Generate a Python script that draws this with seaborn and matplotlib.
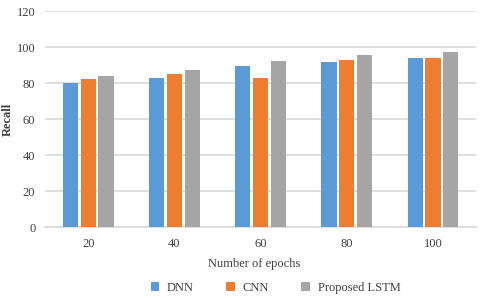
import pandas as pd
import matplotlib.pyplot as plt
import seaborn as sns
from matplotlib.patches import Patch

epochs = ["20", "40", "60", "80", "100"]
dnn = [80.0, 83.0, 89.3, 91.7, 93.7]
cnn = [82.0, 85.0, 82.8, 92.6, 93.7]
lstm = [83.7, 87.0, 92.4, 95.4, 97.4]
models = ["DNN", "CNN", "Proposed LSTM"]
colors = ["#5B9BD5", "#ED7D31", "#A5A5A5"]

df = pd.DataFrame({
    "Epochs": epochs * 3,
    "Recall": dnn + cnn + lstm,
    "Model": [m for m in models for _ in epochs],
})

sns.set_theme(style="white")
plt.rcParams["font.family"] = ["Liberation Serif", "DejaVu Serif"]
text_color = "#404040"

fig = plt.figure(figsize=(4.8, 2.98), dpi=100)
ax = fig.add_axes([0.094, 0.238, 0.898, 0.725])

sns.barplot(data=df, x="Epochs", y="Recall", hue="Model", order=epochs,
            hue_order=models, palette=colors, width=0.62, gap=0.15,
            saturation=1, edgecolor="none", legend=False, ax=ax, zorder=3)

ax.set_ylim(0, 120)
ax.set_yticks(range(0, 121, 20))
ax.set_xlim(-0.5, 4.5)
ax.yaxis.grid(True, color="#D9D9D9", linewidth=1.2, zorder=0)
for s in ["top", "right", "left"]:
    ax.spines[s].set_visible(False)
ax.spines["bottom"].set_color("#D9D9D9")
ax.spines["bottom"].set_linewidth(1.2)
ax.tick_params(axis="both", length=0, labelsize=9, colors=text_color)
ax.tick_params(axis="y", pad=7)
ax.tick_params(axis="x", pad=8)

ax.set_ylabel("Recall", fontsize=9, fontweight="bold", color=text_color)
ax.yaxis.set_label_coords(-0.072, 0.5)
ax.set_xlabel("Number of epochs", fontsize=9, color=text_color)
ax.xaxis.set_label_coords(0.485, -0.145)

handles = [Patch(facecolor=c, edgecolor="none") for c in colors]
fig.legend(handles, models, loc="center", bbox_to_anchor=(0.574, 0.035), ncol=3,
           frameon=False, fontsize=9, handlelength=0.7, handleheight=0.7,
           columnspacing=2.6, handletextpad=0.6, labelcolor=text_color)

fig.savefig("out.png", dpi=100)
